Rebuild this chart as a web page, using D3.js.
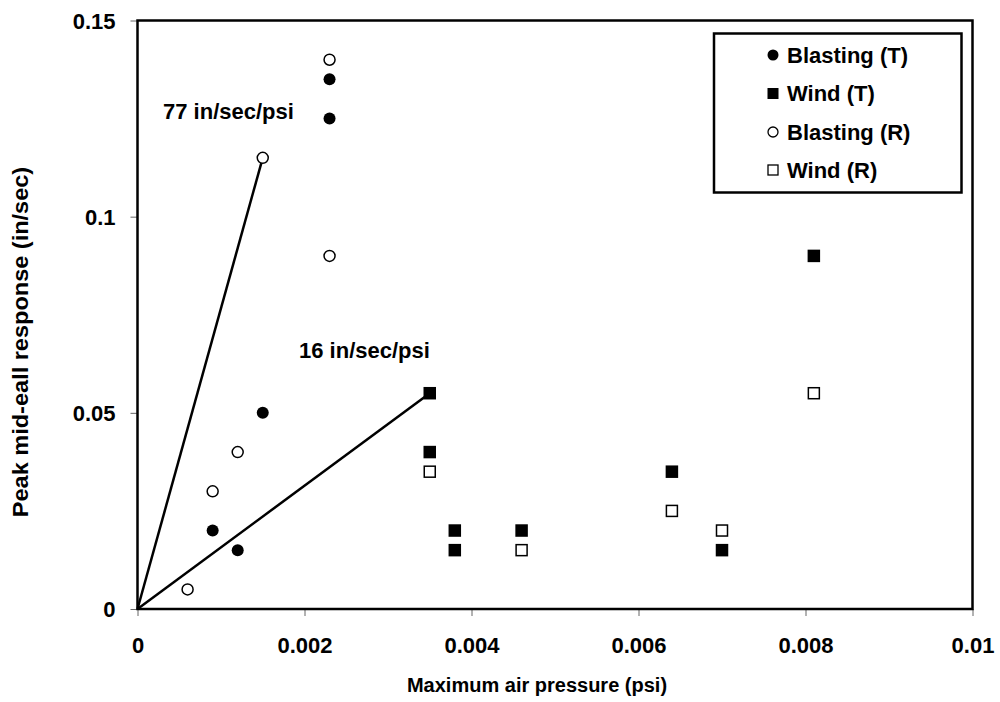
<!DOCTYPE html>
<html><head><meta charset="utf-8">
<script src="https://cdn.jsdelivr.net/npm/d3@7"></script>
<style>body{margin:0;background:#fff}svg text{font-family:"Liberation Sans",Arial,sans-serif;font-weight:bold}</style>
</head><body><svg id="c" width="1000" height="702"></svg>
<script>
const blastingT = [[0.0009,0.02],[0.0012,0.015],[0.0015,0.05],[0.0023,0.135],[0.0023,0.125]];
const windT = [[0.0035,0.055],[0.0035,0.04],[0.0038,0.02],[0.0038,0.015],[0.0046,0.02],[0.0064,0.035],[0.0070,0.015],[0.0081,0.09]];
const blastingR = [[0.0006,0.005],[0.0009,0.03],[0.0012,0.04],[0.0015,0.115],[0.0023,0.14],[0.0023,0.09]];
const windR = [[0.0035,0.035],[0.0046,0.015],[0.0064,0.025],[0.0070,0.02],[0.0081,0.055]];
const lines = [{label:"77 in/sec/psi", pts:[[0,0],[0.0015,0.115]]},{label:"16 in/sec/psi", pts:[[0,0],[0.0035,0.055]]}];
const xTicks = [0,0.002,0.004,0.006,0.008,0.01];
const yTicks = [0,0.05,0.1,0.15];
const xTickLabels = ["0","0.002","0.004","0.006","0.008","0.01"];
const yTickLabels = ["0","0.05","0.1","0.15"];
const legendNames = ["Blasting (T)","Wind (T)","Blasting (R)","Wind (R)"];

const svg = d3.select("#c");
const L=137.5,R=972.5,T=20.5,B=609;
const FS=22;
const x = d3.scaleLinear().domain([0,0.01]).range([L,R]);
const y = d3.scaleLinear().domain([0,0.15]).range([B,T]);

// ticks
const xa = svg.append("g").attr("transform",`translate(0,${B})`)
  .call(d3.axisBottom(x).tickValues(xTicks).tickSize(7).tickFormat((d,i)=>xTickLabels[i]));
const ya = svg.append("g").attr("transform",`translate(${L},0)`)
  .call(d3.axisLeft(y).tickValues(yTicks).tickSize(7).tickFormat((d,i)=>yTickLabels[i]));
[xa,ya].forEach(a=>{a.attr("font-size",null).attr("font-family",null);
  a.select(".domain").remove();a.selectAll(".tick line").attr("stroke","#666").attr("stroke-width",1);
  a.selectAll("text").style("font-size",FS+"px").attr("fill","#000");});
xa.selectAll("text").attr("dy",0).attr("y",44);
ya.selectAll("text").attr("x",-22).attr("dy","0.36em");

// frame
svg.append("rect").attr("x",L).attr("y",T).attr("width",R-L).attr("height",B-T)
  .attr("fill","none").attr("stroke","#000").attr("stroke-width",2.5);

// lines
const lg = d3.line().x(d=>x(d[0])).y(d=>y(d[1]));
lines.forEach(l=>svg.append("path").attr("d",lg(l.pts)).attr("fill","none").attr("stroke","#000").attr("stroke-width",2.5));
svg.append("text").attr("x",163).attr("y",119).style("font-size",FS+"px").text(lines[0].label);
svg.append("text").attr("x",299).attr("y",358).style("font-size",FS+"px").text(lines[1].label);

function circles(data,filled){
  svg.append("g").selectAll("circle").data(data).join("circle")
   .attr("cx",d=>x(d[0])).attr("cy",d=>y(d[1])).attr("r",filled?6:5.5)
   .attr("fill",filled?"#000":"#fff").attr("stroke","#000").attr("stroke-width",filled?0:1.5);
}
function squares(data,filled){
  const s = filled?12.5:11;
  svg.append("g").selectAll("rect").data(data).join("rect")
   .attr("x",d=>x(d[0])-s/2).attr("y",d=>y(d[1])-s/2).attr("width",s).attr("height",s)
   .attr("fill",filled?"#000":"#fff").attr("stroke","#000").attr("stroke-width",filled?0:1.5);
}
circles(blastingR,false);
squares(windR,false);
circles(blastingT,true);
squares(windT,true);

// legend
const lgd = svg.append("g");
lgd.append("rect").attr("x",714).attr("y",33.5).attr("width",247.5).attr("height",159)
  .attr("fill","#fff").attr("stroke","#000").attr("stroke-width",2.5);
const rows=[55,93.5,132,170];
legendNames.forEach((n,i)=>{
  const cx=773, cy=rows[i];
  if(i===0) lgd.append("circle").attr("cx",cx).attr("cy",cy).attr("r",5.5).attr("fill","#000");
  if(i===1) lgd.append("rect").attr("x",cx-5.5).attr("y",cy-5.5).attr("width",11).attr("height",11).attr("fill","#000");
  if(i===2) lgd.append("circle").attr("cx",cx).attr("cy",cy).attr("r",5).attr("fill","#fff").attr("stroke","#000").attr("stroke-width",1.3);
  if(i===3) lgd.append("rect").attr("x",cx-5).attr("y",cy-5).attr("width",10).attr("height",10).attr("fill","#fff").attr("stroke","#000").attr("stroke-width",1.3);
  lgd.append("text").attr("x",787).attr("y",cy).attr("dy","0.36em").style("font-size",FS+"px").text(n);
});

// axis titles
svg.append("text").attr("x",537).attr("y",692).attr("text-anchor","middle").style("font-size","20px").text("Maximum air pressure (psi)");
svg.append("text").attr("transform","translate(28,342) rotate(-90) scale(1.07,1)").attr("text-anchor","middle").style("font-size","22px").text("Peak mid-eall response (in/sec)");
</script></body></html>
